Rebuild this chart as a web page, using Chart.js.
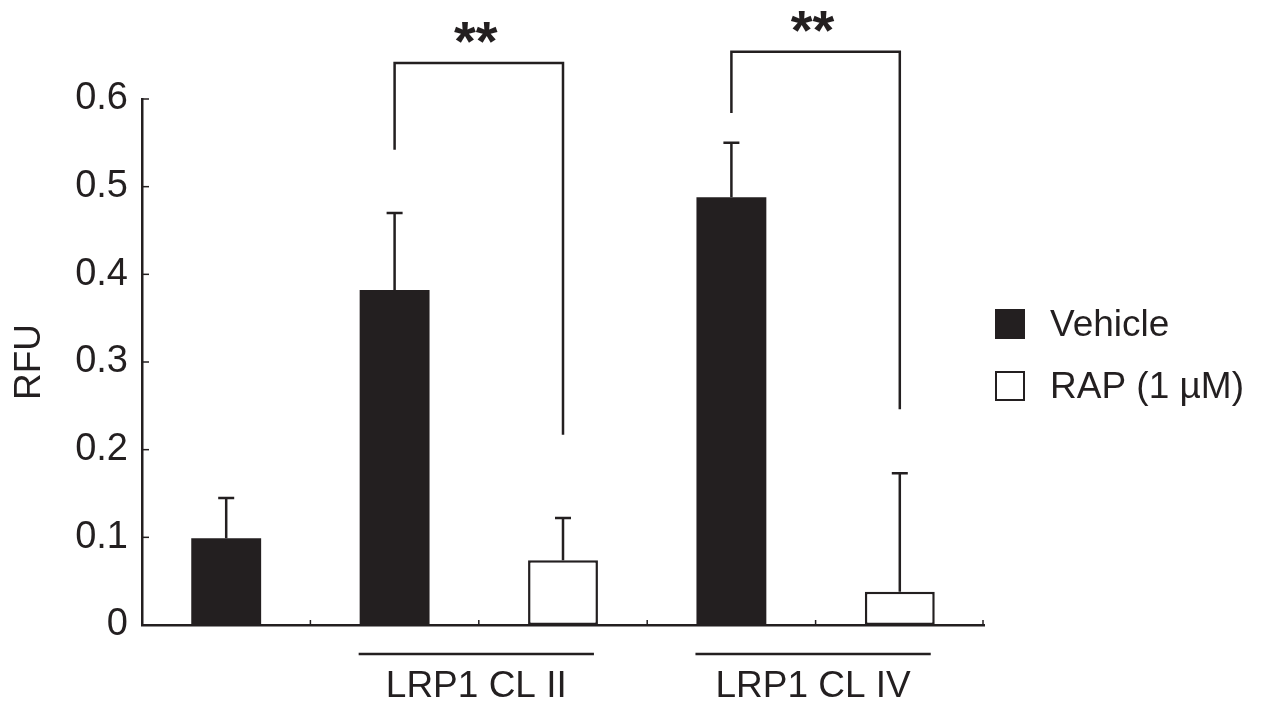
<!DOCTYPE html>
<html>
<head>
<meta charset="utf-8">
<script src="https://cdn.jsdelivr.net/npm/chart.js@4.4.1/dist/chart.umd.min.js"></script>
<style>
html,body{margin:0;padding:0;background:#fff;}
#wrap{width:1263px;height:707px;}
</style>
</head>
<body>
<div id="wrap"><canvas id="c" width="1263" height="707"></canvas></div>
<script>
// ---- data ----
const categories = ['Control', 'LRP1 CL II Vehicle', 'LRP1 CL II RAP', 'LRP1 CL IV Vehicle', 'LRP1 CL IV RAP'];
const seriesNames = ['Vehicle', 'RAP (1 \u00b5M)'];
const vehicleValues = [0.099, 0.382, null, 0.488, null];
const vehicleErrors = [0.046, 0.088, null, 0.062, null];
const rapValues = [null, null, 0.074, null, 0.038];
const rapErrors = [null, null, 0.048, null, 0.135];
const yTickValues = [0, 0.1, 0.2, 0.3, 0.4, 0.5, 0.6];
const groupLabels = ['LRP1 CL II', 'LRP1 CL IV'];
const groupStart = [1, 3];
const groupEnd = [2, 4];
const bracketFrom = [1, 3];
const bracketTo = [2, 4];
const bracketLeftStart = [0.542, 0.584];
const bracketTop = [0.641, 0.654];
const bracketRightEnd = [0.217, 0.246];
const sigLabels = ['**', '**'];

const INK = '#231f20';
const FONT = '"Liberation Sans", Arial, Helvetica, sans-serif';

const annotPlugin = {
  id: 'annot',
  afterDatasetsDraw(chart) {
    const ctx = chart.ctx;
    const xs = chart.scales.x, ys = chart.scales.y;
    const area = chart.chartArea;
    ctx.save();
    ctx.strokeStyle = INK;
    ctx.fillStyle = INK;
    ctx.lineWidth = 2.5;
    ctx.lineCap = 'butt';

    // error bars (upper only)
    const errs = [vehicleErrors, rapErrors];
    chart.data.datasets.forEach((ds, di) => {
      const meta = chart.getDatasetMeta(di);
      meta.data.forEach((bar, i) => {
        const v = ds.data[i];
        const e = errs[di][i];
        if (v == null || e == null) return;
        const x = bar.x;
        const yTop = ys.getPixelForValue(v + e);
        ctx.beginPath();
        ctx.moveTo(x, bar.y);
        ctx.lineTo(x, yTop);
        ctx.moveTo(x - 8, yTop);
        ctx.lineTo(x + 8, yTop);
        ctx.stroke();
      });
    });

    // x-axis small inward tick marks at category boundaries
    ctx.lineWidth = 1.5;
    const n = categories.length;
    for (let i = 0; i < n; i++) {
      const bx = i < n - 1 ? (xs.getPixelForValue(i) + xs.getPixelForValue(i + 1)) / 2 : area.right - 1;
      ctx.beginPath();
      ctx.moveTo(bx, area.bottom);
      ctx.lineTo(bx, area.bottom - 5);
      ctx.stroke();
    }
    // y-axis inward ticks
    yTickValues.forEach(v => {
      const y = ys.getPixelForValue(v);
      ctx.beginPath();
      ctx.moveTo(area.left, y);
      ctx.lineTo(area.left + 7, y);
      ctx.stroke();
    });

    // significance brackets
    ctx.lineWidth = 2.5;
    bracketFrom.forEach((a, k) => {
      const b = bracketTo[k];
      const x1 = xs.getPixelForValue(a), x2 = xs.getPixelForValue(b);
      const yl = ys.getPixelForValue(bracketLeftStart[k]);
      const yt = ys.getPixelForValue(bracketTop[k]);
      const yr = ys.getPixelForValue(bracketRightEnd[k]);
      ctx.beginPath();
      ctx.moveTo(x1, yl);
      ctx.lineTo(x1, yt);
      ctx.lineTo(x2, yt);
      ctx.lineTo(x2, yr);
      ctx.stroke();
      ctx.font = 'bold 56px ' + FONT;
      ctx.textAlign = 'center';
      ctx.textBaseline = 'alphabetic';
      ctx.fillText(sigLabels[k], (x1 + x2) / 2 - 3, yt - 3);
    });

    // group underlines and labels
    const barW = chart.getDatasetMeta(0).data[0].width;
    groupStart.forEach((a, k) => {
      const b = groupEnd[k];
      const x1 = xs.getPixelForValue(a) - barW / 2 - 1;
      const x2 = xs.getPixelForValue(b) + barW / 2 - 4;
      const y = area.bottom + 29;
      ctx.lineWidth = 2.5;
      ctx.beginPath();
      ctx.moveTo(x1, y);
      ctx.lineTo(x2, y);
      ctx.stroke();
      ctx.font = '37px ' + FONT;
      ctx.textAlign = 'center';
      ctx.textBaseline = 'middle';
      ctx.fillText(groupLabels[k], (x1 + x2) / 2, area.bottom + 62);
    });

    // legend
    const legY = [324, 386];
    chart.data.datasets.forEach((ds, di) => {
      const bx = area.right + 11, by = legY[di] - 15;
      ctx.fillStyle = ds.backgroundColor;
      ctx.fillRect(bx, by, 30, 30);
      ctx.lineWidth = 2;
      ctx.strokeStyle = INK;
      ctx.strokeRect(bx + 1, by + 1, 28, 28);
      ctx.fillStyle = INK;
      ctx.font = '37px ' + FONT;
      ctx.textAlign = 'left';
      ctx.textBaseline = 'middle';
      ctx.fillText(ds.label, area.right + 66, legY[di] + 2);
    });
    ctx.restore();
  }
};

new Chart(document.getElementById('c'), {
  type: 'bar',
  data: {
    labels: categories,
    datasets: [
      { label: seriesNames[0], data: vehicleValues, backgroundColor: INK, borderColor: INK, borderWidth: 0 },
      { label: seriesNames[1], data: rapValues, backgroundColor: '#ffffff', borderColor: INK, borderWidth: 2.5, borderSkipped: false }
    ]
  },
  options: {
    responsive: false,
    animation: false,
    devicePixelRatio: 1,
    layout: { padding: { left: 0, right: 279, top: 99, bottom: 82 } },
    datasets: { bar: { barPercentage: 0.415, categoryPercentage: 1 } },
    plugins: { legend: { display: false }, tooltip: { enabled: false } },
    scales: {
      x: {
        stacked: true,
        grid: { display: false, drawTicks: false },
        border: { display: true, color: INK, width: 2.5 },
        ticks: { display: false },
        afterFit(s) { s.height = 0; }
      },
      y: {
        stacked: true,
        min: 0, max: 0.6,
        afterBuildTicks(s) { s.ticks = yTickValues.map(v => ({ value: v })); },
        grid: { display: false, drawTicks: false },
        border: { display: true, color: INK, width: 2.5 },
        ticks: { color: INK, padding: 14, font: { family: FONT, size: 38 } },
        title: { display: true, text: 'RFU', color: INK, padding: { top: 8 }, font: { family: FONT, size: 37 } },
        afterFit(s) { s.width = 142; }
      }
    }
  },
  plugins: [annotPlugin]
});
</script>
</body>
</html>
